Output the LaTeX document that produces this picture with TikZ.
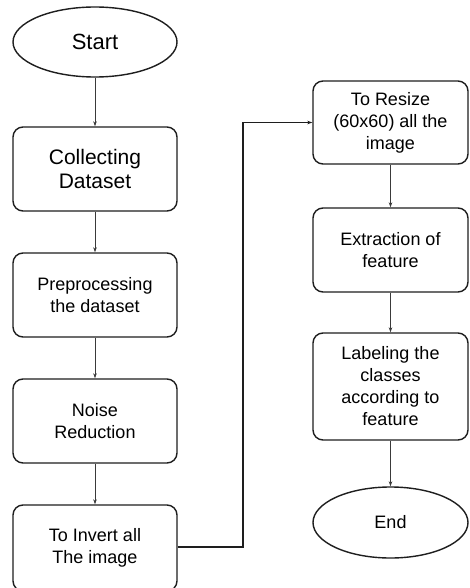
\documentclass[tikz,border=0pt]{standalone}
\usepackage{fontspec}
\setmainfont{Liberation Sans}
\usetikzlibrary{shapes.geometric,arrows.meta}
\definecolor{edge}{HTML}{1E1E1E}
\definecolor{link}{HTML}{3A3A3A}
\tikzset{
  flowbox/.style={draw=edge, line width=1.4pt, rounded corners=10pt, align=center,
    minimum width=164pt, minimum height=84pt, inner sep=2pt,
    font=\fontsize{18}{22}\selectfont},
  termbox/.style={draw=edge, line width=1.4pt, ellipse, inner sep=0pt,
    minimum width=164pt, minimum height=70pt, font=\fontsize{18}{22}\selectfont},
  flowarrow/.style={draw=link, line width=0.7pt, -{Stealth[length=5pt,width=3.5pt]}},
}
\begin{document}
\begin{tikzpicture}[x=1pt,y=-1pt]
  \clip (0,0) rectangle (469,588);
  \fill[white] (0,0) rectangle (469,588);
  % left column
  \node[termbox, font=\fontsize{22}{26}\selectfont] (start) at (95,42) {Start};
  \node[flowbox, font=\fontsize{21}{24}\selectfont] (collect) at (95,169) {Collecting\\Dataset};
  \node[flowbox] (prep) at (95,295) {Preprocessing\\the dataset};
  \node[flowbox] (noise) at (95,421) {Noise\\Reduction};
  \node[flowbox, minimum height=86pt] (invert) at (95,548) {To Invert all\\The image};
  % right column
  \node[flowbox, minimum width=155pt, minimum height=83pt] (resize) at (390.5,122.5) {To Resize\\(60x60) all the\\image};
  \node[flowbox, minimum width=155pt] (extract) at (390.5,250) {Extraction of\\feature};
  \node[flowbox, minimum width=155pt, minimum height=107pt] (label) at (390.5,386.5) {Labeling the\\classes\\according to\\feature};
  \node[termbox, minimum width=155pt, minimum height=71pt] (end) at (390.5,522.5) {End};
  % connectors
  \draw[flowarrow] (start) -- (collect);
  \draw[flowarrow] (collect) -- (prep);
  \draw[flowarrow] (prep) -- (noise);
  \draw[flowarrow] (noise) -- (invert);
  \coordinate (turnlow) at (243,547);
  \coordinate (turnhigh) at (243,122.5);
  \draw[flowarrow, draw=edge, line width=1.2pt] (invert.east |- turnlow) -- (turnlow) -- (turnhigh) -- (resize.west);
  \draw[flowarrow] (resize) -- (extract);
  \draw[flowarrow] (extract) -- (label);
  \draw[flowarrow] (label) -- (end);
\end{tikzpicture}
\end{document}
